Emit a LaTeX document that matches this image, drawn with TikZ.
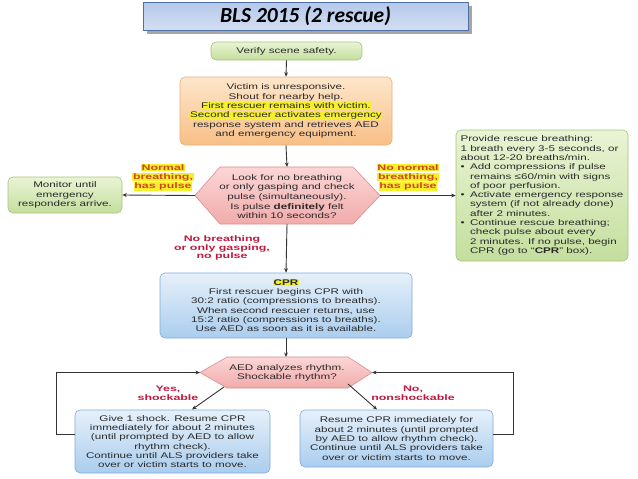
\documentclass[tikz,border=0pt]{standalone}
\usepackage{fontspec}
\setmainfont{Liberation Sans}[FakeStretch=1.42]
\newfontfamily\lblfont{Liberation Sans}[FakeStretch=1.55]
\newfontfamily\titlefont{Carlito}
\usetikzlibrary{arrows.meta}
\definecolor{txt}{HTML}{2A2A2A}
\definecolor{ln}{HTML}{333333}
\definecolor{grT}{HTML}{E9F4D4}
\definecolor{grM}{HTML}{C4DE9E}
\definecolor{grB}{HTML}{A5C47A}
\definecolor{orT}{HTML}{FDE6CA}
\definecolor{orM}{HTML}{F8BF86}
\definecolor{orB}{HTML}{E9AF7C}
\definecolor{pkT}{HTML}{FBD6D6}
\definecolor{pkM}{HTML}{F2ABAB}
\definecolor{pkB}{HTML}{DC8C8C}
\definecolor{blT}{HTML}{E6F0FA}
\definecolor{blM}{HTML}{AACDEE}
\definecolor{blB}{HTML}{80ACD8}
\definecolor{hly}{HTML}{F6F02C}
\definecolor{lblr}{HTML}{C2173F}
\definecolor{lblo}{HTML}{D0461C}
\definecolor{tiT}{HTML}{B4C8EB}
\definecolor{tiM}{HTML}{D3DEF2}
\definecolor{tiB}{HTML}{4E6EA6}
\newcommand{\hl}[1]{{\setlength{\fboxsep}{0.6pt}\colorbox{hly}{#1}}}
\tikzset{
  box/.style={draw, rounded corners=5pt, align=center, inner sep=0pt, line width=0.6pt,
    font=\fontsize{8.2}{9.3}\selectfont, text=txt},
  greenbox/.style={box, draw=grB, top color=grT, bottom color=grM},
  orangebox/.style={box, draw=orB, top color=orT, bottom color=orM},
  bluebox/.style={box, draw=blB, top color=blT, bottom color=blM},
  hexfill/.style={draw=pkB, line width=0.6pt, top color=pkT, bottom color=pkM},
  hextext/.style={align=center, inner sep=0pt, font=\fontsize{8.2}{9.6}\selectfont, text=txt},
  conn/.style={draw=ln, line width=0.9pt, -{Stealth[length=4.5pt,width=3.8pt]}},
  lbl/.style={align=center, inner sep=0pt, font=\lblfont\bfseries\fontsize{8}{8.6}\selectfont},
  titlebox/.style={draw=tiB, line width=0.8pt, top color=tiT, bottom color=tiM,
    minimum width=325pt, minimum height=28pt, inner sep=0pt,
    font=\titlefont\bfseries\itshape\fontsize{21.5}{22}\selectfont}
}
\begin{document}
\begin{tikzpicture}[x=1pt,y=-1pt]
\useasboundingbox (0,0) rectangle (638,479);
\fill[white] (0,0) rectangle (638,479);
% title
\fill[black!35] (146.5,5.5) rectangle (471.5,33.5);
\node[titlebox] (title) at (305.5,16) {BLS 2015 (2 rescue)};
% boxes
\node[greenbox, minimum width=151pt, minimum height=18pt] (verify) at (286.5,51) {Verify scene safety.};
\node[orangebox, minimum width=212pt, minimum height=68pt] (victim) at (286,111)
  {Victim is unresponsive.\\Shout for nearby help.\\\hl{First rescuer remains with victim.}\\\hl{Second rescuer activates emergency}\\response system and retrieves AED\\and emergency equipment.};
\node[greenbox, minimum width=114pt, minimum height=36pt] (monitor) at (65,195)
  {Monitor until\\emergency\\responders arrive.};
% look hexagon
\path[hexfill] (195,195.5) -- (220,167) -- (353,167) -- (380,195.5) -- (353,224) -- (220,224) -- cycle;
\coordinate (lookL) at (195,195.5);
\coordinate (lookR) at (380,195.5);
\coordinate (lookT) at (287,167);
\coordinate (lookB) at (287,224);
\node[hextext] (look) at (287,196.5)
  {Look for no breathing\\or only gasping and check\\pulse (simultaneously).\\Is pulse \textbf{definitely} felt\\within 10 seconds?};
\node[greenbox, align=left, minimum width=172pt, minimum height=131pt] (rescue) at (542,195.5)
  {Provide rescue breathing:\\1 breath every 3-5 seconds, or\\about 12-20 breaths/min.\\
   \makebox[9.5pt][l]{\textbullet}Add compressions if pulse\\\hspace*{9.5pt}remains ≤60/min with signs\\\hspace*{9.5pt}of poor perfusion.\\
   \makebox[9.5pt][l]{\textbullet}Activate emergency response\\\hspace*{9.5pt}system (if not already done)\\\hspace*{9.5pt}after 2 minutes.\\
   \makebox[9.5pt][l]{\textbullet}Continue rescue breathing;\\\hspace*{9.5pt}check pulse about every\\\hspace*{9.5pt}2 minutes. If no pulse, begin\\\hspace*{9.5pt}CPR (go to “\textbf{CPR}” box).};
\node[bluebox, minimum width=252pt, minimum height=65pt] (cpr) at (286,305.5)
  {\hl{\textbf{CPR}}\\First rescuer begins CPR with\\30:2 ratio (compressions to breaths).\\When second rescuer returns, use\\15:2 ratio (compressions to breaths).\\Use AED as soon as it is available.};
% AED hexagon
\path[hexfill] (200,372.5) -- (227,357) -- (348,357) -- (372,372.5) -- (348,388) -- (227,388) -- cycle;
\coordinate (aedL) at (200,372.5);
\coordinate (aedR) at (372,372.5);
\coordinate (aedT) at (286,357);
\coordinate (aedBL) at (224,387);
\coordinate (aedBR) at (348,384);
\node[hextext] (aed) at (287,373) {AED analyzes rhythm.\\Shockable rhythm?};
\node[bluebox, minimum width=195pt, minimum height=63pt] (shock) at (172.5,441.5)
  {Give 1 shock. Resume CPR\\immediately for about 2 minutes\\(until prompted by AED to allow\\rhythm check).\\Continue until ALS providers take\\over or victim starts to move.};
\node[bluebox, minimum width=193pt, minimum height=57pt] (noshock) at (396.5,438.5)
  {Resume CPR immediately for\\about 2 minutes (until prompted\\by AED to allow rhythm check).\\Continue until ALS providers take\\over or victim starts to move.};
\coordinate (shockIn) at (192,409.5);
\coordinate (noshockIn) at (377,409.5);
% labels
\node[lbl, text=lblo] (l1) at (163,177.5) {\hl{Normal}\\\hl{breathing,}\\\hl{has pulse}};
\node[lbl, text=lblo] (l2) at (408,177.5) {\hl{No normal}\\\hl{breathing,}\\\hl{has pulse}};
\node[lbl, text=lblr] (l3) at (222,248) {No breathing\\or only gasping,\\no pulse};
\node[lbl, text=lblr] (l4) at (168,393) {Yes,\\shockable};
\node[lbl, text=lblr] (l5) at (413,393) {No,\\nonshockable};
% connectors
\draw[conn] (verify.south) -- (victim.north);
\draw[conn] (victim.south) -- (lookT);
\draw[conn] (lookL) -- (monitor.east);
\draw[conn] (lookR) -- (rescue.west);
\draw[conn] (lookB) -- (cpr.north);
\draw[conn] (cpr.south) -- (aedT);
\draw[conn] (aedBL) -- (shockIn);
\draw[conn] (aedBR) -- (noshockIn);
\draw[conn] ([yshift=7.5pt]shock.west) -- ++(-18,0) |- (aedL);
\draw[conn] ([yshift=4.5pt]noshock.east) -- ++(20,0) |- (aedR);
\end{tikzpicture}
\end{document}
